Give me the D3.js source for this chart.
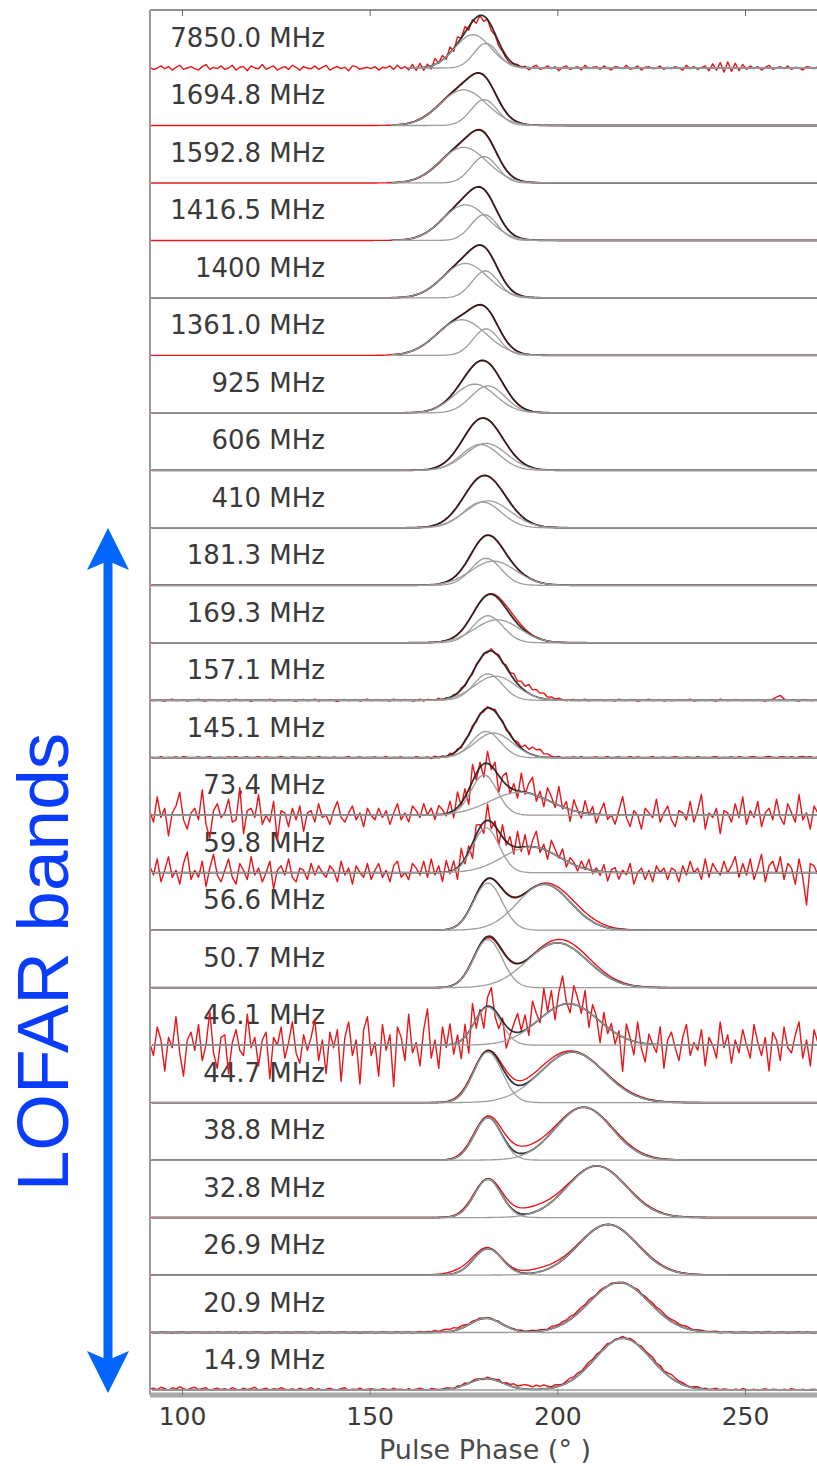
<!DOCTYPE html>
<html><head><meta charset="utf-8">
<script src="https://cdn.jsdelivr.net/npm/d3@7"></script>
<style>body{margin:0;background:#fff}svg{display:block}</style>
</head><body>
<svg id="chart" width="817" height="1466"></svg>
<script>
// ---------------- DATA ----------------
const frequencyLabels = ["7850.0 MHz","1694.8 MHz","1592.8 MHz","1416.5 MHz","1400 MHz","1361.0 MHz","925 MHz","606 MHz","410 MHz","181.3 MHz","169.3 MHz","157.1 MHz","145.1 MHz","73.4 MHz","59.8 MHz","56.6 MHz","50.7 MHz","46.1 MHz","44.7 MHz","38.8 MHz","32.8 MHz","26.9 MHz","20.9 MHz","14.9 MHz"];

// fitted Gaussian components per band: [centre (deg), width (deg), amplitude]
const fitComponents = [
  [[177.5,4.8,0.58],[181,3.2,0.43]],
  [[175,6.2,0.62],[180.5,3.5,0.45]],
  [[175,6.2,0.62],[180.5,3.5,0.46]],
  [[175.5,6,0.62],[180.5,3.5,0.45]],
  [[175.5,6,0.6],[180.8,3.5,0.47]],
  [[174.5,6.5,0.62],[181,3.5,0.46]],
  [[178,5.5,0.5],[181.5,4.5,0.47]],
  [[179.5,5,0.45],[181,5.5,0.47]],
  [[180,5,0.45],[181.5,6,0.47]],
  [[181,4,0.47],[183,6,0.42]],
  [[181.5,4,0.47],[184,6,0.4]],
  [[181.5,3.8,0.46],[183.5,5.5,0.42]],
  [[181,3.8,0.46],[183,5,0.43]],
  [[180.5,3.5,0.7],[190,8,0.4]],
  [[181,3.5,0.78],[193,7.5,0.45]],
  [[181.5,3.8,0.82],[196.5,7,0.8]],
  [[181.5,3.8,0.84],[200,8,0.78]],
  [[181.5,3.5,0.66],[203,8,0.72]],
  [[181.5,3.8,0.88],[204,8.5,0.88]],
  [[181.5,3.6,0.74],[207,7.5,0.92]],
  [[181.5,3.6,0.67],[210.5,7.8,0.9]],
  [[181.5,3.8,0.46],[213.5,7.8,0.88]],
  [[181,4.2,0.25],[216.5,8,0.87]],
  [[181,4.5,0.2],[217.5,7.5,0.9]]
];

// smooth part of the observed (red) profiles
const dataComponents = [
  [[177,4.8,0.6],[181,3,0.4]],
  [[175,6.3,0.63],[180.5,3.5,0.44]],
  [[175.2,6.2,0.62],[180.5,3.4,0.46]],
  [[175.5,6,0.62],[180.5,3.5,0.45]],
  [[175.5,6,0.6],[180.8,3.5,0.47]],
  [[174.5,6.5,0.62],[181,3.5,0.46]],
  [[178,5.5,0.5],[181.5,4.5,0.47]],
  [[179.5,5,0.45],[181,5.5,0.47]],
  [[180,5,0.45],[181.5,6,0.47]],
  [[181,4,0.47],[183,6,0.42]],
  [[181.5,4,0.47],[184,6,0.4],[188,3,0.06]],
  [[181.5,3.8,0.46],[183.5,5.5,0.42],[193,3.5,0.12]],
  [[181,3.8,0.46],[183,5,0.43],[194,2.5,0.12]],
  [[180.5,3.5,0.68],[191,8,0.44]],
  [[181,3.5,0.76],[194,7.5,0.48]],
  [[181.5,3.8,0.8],[197,7.5,0.82]],
  [[181.5,3.8,0.82],[200.5,8,0.84]],
  [[181.5,3.5,0.62],[202,8,0.8]],
  [[181.5,4,0.86],[203.5,9,0.9]],
  [[181.5,3.8,0.74],[207,7.8,0.92],[190,5,0.1]],
  [[181.5,3.8,0.67],[210.5,8,0.9],[193,5,0.1]],
  [[181.5,3.8,0.46],[213.5,8,0.88],[175,4,0.06],[195,5,0.06]],
  [[181,4.2,0.25],[216.5,8.5,0.87],[172,4,0.04]],
  [[181,4.5,0.2],[217.5,7.8,0.9],[193,3,0.05]]
];

const fitStart = [160,156,156,156,92,156,92,92,92,92,92,92,92,92,92,92,92,92,92,92,92,92,92,92];

// residual noise (1 deg steps from 91.4 deg)
const noise7850 = [1,-2,0,3,-1,2,-3,1,4,-2,0,2,-1,-3,2,5,-2,1,-1,3,
 -2,0,4,-3,1,2,-4,3,0,-1,5,-2,1,3,-3,0,2,-2,4,1,
 -3,2,0,-1,3,-2,1,4,-3,0,2,-1,1,-4,3,2,-2,0,1,-1,
 2,-3,1,0,3,-2,4,-1,2,-3,5,-4,6,-5,3,-6,7,-3,4,-7,
 5,-8,6,-3,7,-5,4,-6,3,-4,5,-2,3,-1,2,0,-2,1,3,-1,
 2,-3,1,4,-2,0,3,-1,2,-4,1,3,-2,0,2,-3,4,-1,1,2,
 -2,3,0,-3,2,1,-1,4,-2,0,3,-3,1,2,-1,0,3,-2,1,-1,
 2,0,-3,4,-1,2,-2,1,3,-4,6,-3,8,-6,9,-5,7,-4,5,-2,
 3,-1,2,-3,1,4,-2,0,2,-1,3,-2,1,0,-3,2,1,-1,2];
const noise1571 = [1,-1,2,0,-2,1,3,-1,0,2,-2,1,0,3,-1,-2,2,1,-1,0,
 2,-2,1,3,-1,0,2,-3,1,0,2,-1,3,-2,0,1,-1,2,0,-2,
 1,2,-1,0,3,-2,1,-1,2,0,-3,1,2,-1,0,2,-2,1,3,-1,
 0,2,-1,1,-2,3,0,-1,2,1,-2,0,3,-3,2,1,-2,4,-3,2,
 -4,3,-2,5,-3,2,-5,4,-2,3,-4,6,-3,5,-6,4,-3,7,-4,3,
 -5,6,-4,3,-2,4,-3,2,-1,3,0,-2,1,2,-1,0,3,-2,1,0,
 2,-1,0,1,-2,3,0,-1,2,1,-2,0,1,3,-1,0,2,-2,1,-1,
 0,2,-1,1,3,-2,0,1,-1,2,0,-2,3,1,-1,0,2,1,-1,0,
 1,-1,2,0,-2,1,3,9,14,4,-1,1,0,-2,2,1,-1,0,1];
const noise1451 = [2,0,-1,3,-2,1,0,2,-1,3,1,-2,0,2,-1,1,3,-2,0,1,
 -1,2,0,3,-2,1,2,-1,0,3,-1,2,0,-2,1,3,0,-1,2,1,
 0,-2,2,1,-1,3,0,1,-2,2,0,-1,1,3,-2,0,2,-1,1,0,
 2,-1,0,3,-2,1,0,2,-1,1,-2,3,0,-1,2,-3,4,-2,3,-4,
 5,-3,4,-5,3,-2,6,-4,3,-5,4,-3,6,-2,5,-6,4,-3,5,-4,
 6,-5,3,-2,4,-3,2,0,-1,3,-2,1,0,2,-1,3,-2,0,1,2,
 -1,0,3,-2,1,2,-1,0,3,-1,2,0,-2,1,3,-1,0,2,-2,1,
 3,0,-1,2,1,-2,3,0,1,-1,2,3,-2,1,0,2,-1,3,1,-1,
 2,3,0,-1,2,4,1,-2,3,2,0,3,-1,2,4,1,3,-1,2];
const noise734 = [2,-3,8,-1,3,-9,1,4,10,-2,-6,1,3,-2,11,-4,-10,2,5,-1,
 1,7,-3,-2,12,-8,2,3,-1,9,-4,0,-3,6,-11,2,1,-5,3,-2,
 4,-7,1,2,-3,5,-1,0,-4,2,6,-1,-3,1,4,-2,1,-5,3,0,
 -2,3,-1,2,-4,1,5,-2,1,-3,4,2,-1,5,0,3,-2,4,2,-1,
 5,-3,7,-1,4,-6,8,-2,3,-5,6,-1,4,-7,2,5,-3,2,-4,7,
 -2,3,6,-4,1,-5,4,1,-3,7,-2,2,-6,4,0,-3,5,-1,3,-4,
 1,5,-2,0,-4,2,8,-1,-5,2,0,-6,3,1,-1,7,-3,1,4,-2,
 -5,2,1,-2,6,-3,2,9,-6,1,-1,3,-8,2,1,-3,5,-1,8,-4,
 2,-1,6,-5,1,3,-2,7,-1,-4,5,1,-3,9,-2,1,-6,4,1];
const noise598 = [3,-1,6,-4,1,7,-2,1,-5,4,9,-3,1,-2,5,-6,2,8,-1,-4,
 1,6,-2,-5,4,1,-3,7,-1,2,-4,0,5,-7,1,3,-1,6,-2,-4,
 2,1,-3,4,-1,3,0,-2,3,1,-4,5,-1,2,-5,3,0,-2,4,-3,
 1,4,-2,1,-4,3,5,-2,0,-3,4,2,-1,5,-2,6,-1,3,-4,5,
 -1,4,-5,7,-2,3,-6,5,2,-4,8,-2,3,-5,6,-1,4,-3,7,-2,
 5,-4,2,6,-3,1,-5,4,1,-2,3,-4,1,0,-3,2,-1,4,-2,1,
 -2,3,-4,1,2,-3,1,-1,4,-5,0,2,-3,1,-4,3,0,2,-3,2,
 1,-4,3,-1,5,0,2,-3,6,-2,4,1,-1,5,0,3,7,-2,4,-1,
 6,-3,2,8,-4,3,5,0,7,-3,4,2,-5,6,-2,-14,4,3,-1];
const noise461 = [1,-4,7,2,-10,3,-1,11,-3,-12,2,5,-2,8,-6,0,13,-3,-9,3,
 4,-11,1,6,-2,-4,12,-1,3,-8,2,5,-13,3,0,7,-5,1,9,-3,
 -7,4,-2,3,10,-6,2,-11,5,-1,6,-14,3,9,-4,2,-15,6,11,-4,
 1,-12,8,-2,4,-16,7,3,-6,12,-3,1,-8,6,14,-5,2,-9,7,-1,
 8,-4,3,-7,5,-8,9,-3,2,-7,4,8,-2,-5,1,-9,-3,2,6,-1,
 4,-5,7,1,-4,8,-2,5,-7,3,9,-1,-5,6,2,-3,7,-6,4,1,
 -8,5,-2,3,-4,2,-13,6,1,-5,8,-2,-7,4,0,-3,7,-9,2,5,
 -1,-6,3,8,-4,1,-2,6,-8,3,0,-5,9,-1,4,-7,2,-3,6,0,
 -5,8,1,-4,3,-10,5,2,-6,7,-1,-3,4,9,-5,2,-8,6,1];
const noise209 = [1,0,-1,2,0,1,-2,1,0,2,-1,0,1,2,-1,0,1,-1,2,0,
 -1,1,0,2,-2,1,0,-1,2,1,0,-2,1,0,2,-1,1,0,-1,2,
 0,1,-1,2,0,-2,1,0,2,-1,0,1,2,-1,0,1,-2,1,0,2,
 -1,0,2,1,-1,0,3,-1,1,2,-2,1,3,-1,2,0,3,-2,1,2,
 -1,3,-2,2,1,-3,2,0,3,-2,1,2,-1,3,-2,1,0,2,-1,3,
 -2,1,3,-1,2,0,-2,3,1,-1,2,0,3,-2,1,2,-1,3,0,-2,
 2,1,-1,3,0,-2,2,1,-1,0,3,-2,1,0,2,-1,3,1,-2,0,
 2,-1,1,3,0,-2,1,2,-1,0,1,3,-2,0,1,2,-1,0,2,1,
 -1,0,2,-2,1,3,-1,0,2,1,-2,0,1,3,-1,2,0,-1,1];
const noise149 = [2,4,1,6,3,-1,5,2,7,3,0,4,6,1,3,5,-1,2,4,1,
 3,0,5,2,-1,4,1,3,6,0,2,4,-1,3,1,5,2,0,3,-1,
 4,1,2,5,0,3,-1,2,4,1,0,3,5,-1,2,1,4,0,2,3,
 1,-1,3,2,0,4,1,2,-1,3,0,2,4,1,-1,3,2,0,1,3,
 2,-2,3,1,4,-1,2,3,0,-2,3,1,2,4,-1,3,2,5,1,3,
 4,2,-1,3,1,5,2,0,3,1,-1,2,4,1,3,0,2,4,1,3,
 0,2,3,-1,2,1,4,0,3,2,-1,3,1,2,4,0,3,-1,2,5,
 3,1,2,0,-2,1,3,0,2,-1,1,3,0,2,1,-1,2,0,3,1,
 0,2,-1,1,3,0,2,1,-1,2,0,3,1,0,2,-1,1,2,0];

const panelNoise = [noise7850,null,null,null,null,null,null,null,null,null,null,noise1571,noise1451,noise734,noise598,null,null,noise461,null,null,null,null,noise209,noise149];
const noiseScale = [0.012,0,0,0,0,0,0,0,0,0,0,0.006,0.006,0.04,0.04,0,0,0.045,0,0,0,0,0.005,0.008];
const noiseStart = 91.4, noiseStep = 1;

const xTicks = [100,150,200,250];
const xTitle = "Pulse Phase (\u00B0 )";
const bandLabel = "LOFAR bands";

// ---------------- DRAWING ----------------
const svg = d3.select("#chart");
const x = d3.scaleLinear().domain([100,250]).range([182,745]);
const nPanels = frequencyLabels.length;
const y = d3.scaleLinear().domain([0, nPanels-1]).range([1390, 68]);
const plot = {left:150, top:10, right:840, bottom:1395};

svg.append("defs").append("clipPath").attr("id","clip")
  .append("rect").attr("x",plot.left).attr("y",plot.top)
  .attr("width",plot.right-plot.left).attr("height",plot.bottom-plot.top);

const gauss = (p,c) => c[2]*Math.exp(-((p-c[0])**2)/(2*c[1]*c[1]));
const line = d3.line().x(d=>x(d[0])).y(d=>y(d[1]));

// labels (under the traces)
const labelG = svg.append("g");
frequencyLabels.forEach((lab,i)=>{
  const off = nPanels-1-i;
  labelG.append("text")
    .attr("x",325).attr("y",y(off)-30)
    .attr("text-anchor","end").attr("dominant-baseline","central")
    .attr("font-family","DejaVu Sans").attr("font-size",26)
    .attr("fill","#3a3a3a").text(lab);
});

const traces = svg.append("g").attr("clip-path","url(#clip)");
frequencyLabels.forEach((lab,i)=>{
  const off = nPanels-1-i;
  const g = traces.append("g");
  let obs;
  const nz = panelNoise[i];
  if (nz) {
    obs = nz.map((v,k)=>{
      const p = noiseStart + k*noiseStep;
      return [p, off + d3.sum(dataComponents[i], c=>gauss(p,c)) + v*noiseScale[i]];
    });
  } else {
    obs = d3.range(91.4, 270, 0.5).map(p=>[p, off + d3.sum(dataComponents[i], c=>gauss(p,c))]);
  }
  g.append("path").attr("d",line(obs)).attr("fill","none")
    .attr("stroke","#e8161b").attr("stroke-width",1.4).attr("stroke-linejoin","round");
  const ph = d3.range(fitStart[i], 270, 0.5);
  const model = ph.map(p=>[p, off + d3.sum(fitComponents[i], c=>gauss(p,c))]);
  g.append("path").attr("d",line(model)).attr("fill","none")
    .attr("stroke","#1e1e1e").attr("stroke-width",1.8).attr("stroke-opacity",0.9);
  fitComponents[i].forEach(c=>{
    const comp = ph.map(p=>[p, off + gauss(p,c)]);
    g.append("path").attr("d",line(comp)).attr("fill","none")
      .attr("stroke","#9c9c9c").attr("stroke-width",1.3);
  });
});

// frame
svg.append("line").attr("x1",plot.left).attr("x2",plot.right).attr("y1",plot.top).attr("y2",plot.top)
  .attr("stroke","#6e6e6e").attr("stroke-width",1.6);
svg.append("line").attr("x1",plot.left).attr("x2",plot.left).attr("y1",plot.top).attr("y2",plot.bottom)
  .attr("stroke","#9a9a9a").attr("stroke-width",2);
svg.append("line").attr("x1",plot.left).attr("x2",plot.right).attr("y1",plot.bottom).attr("y2",plot.bottom)
  .attr("stroke","#a8a8a8").attr("stroke-width",5);

// axes
const topAxisG = svg.append("g").attr("transform",`translate(0,${plot.top})`)
  .call(d3.axisTop(x).tickValues(xTicks).tickSize(-6).tickFormat(""));
topAxisG.select(".domain").remove();
topAxisG.selectAll("line").attr("stroke","#666");
const bottomAxisG = svg.append("g").attr("transform",`translate(0,${plot.bottom})`)
  .call(d3.axisBottom(x).tickValues(xTicks).tickSize(-6).tickPadding(12).tickFormat(d3.format("d")));
bottomAxisG.select(".domain").remove();
bottomAxisG.selectAll("line").attr("stroke","#777");
bottomAxisG.selectAll("text").attr("font-family","DejaVu Sans").attr("font-size",25).attr("fill","#3a3a3a");

svg.append("text").attr("x",485).attr("y",1459).attr("text-anchor","middle")
  .attr("font-family","DejaVu Sans").attr("font-size",27).attr("fill","#4a4a4a").text(xTitle);

// LOFAR annotation
svg.append("text").attr("transform","translate(68,962) rotate(-90)")
  .attr("text-anchor","middle").attr("font-family","Liberation Sans").attr("font-size",73)
  .attr("fill","#0a3cff").text(bandLabel);
const arrowC = "#0066ff";
svg.append("line").attr("x1",108).attr("x2",108).attr("y1",560).attr("y2",1362)
  .attr("stroke",arrowC).attr("stroke-width",9);
svg.append("path").attr("d","M108,528 L129,570 L108,561 L87,570 Z").attr("fill",arrowC);
svg.append("path").attr("d","M108,1393 L129,1351 L108,1360 L87,1351 Z").attr("fill",arrowC);
</script>
</body></html>
